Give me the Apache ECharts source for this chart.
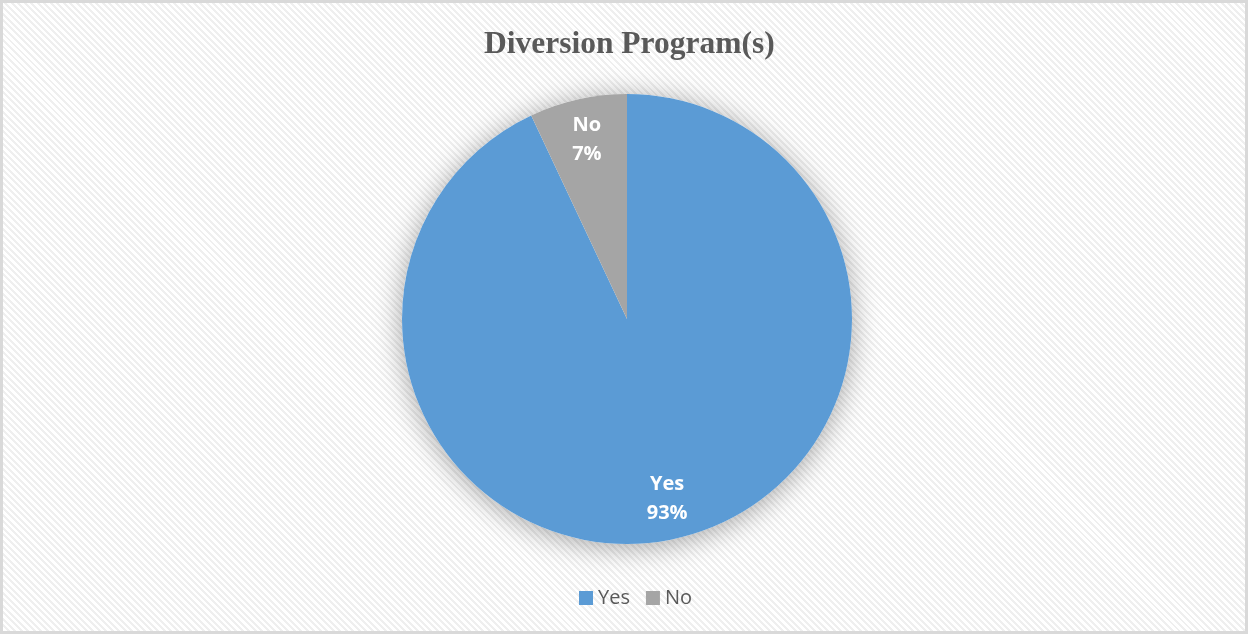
<!DOCTYPE html>
<html>
<head>
<meta charset="utf-8">
<script src="https://cdn.jsdelivr.net/npm/echarts@6/dist/echarts.min.js"></script>
<style>
  html, body { margin: 0; padding: 0; }
  #chart {
    width: 1248px; height: 634px;
    background: repeating-linear-gradient(45deg, #ffffff 0px, #ffffff 2.5px, #efefef 2.5px, #efefef 4.6px);
  }
</style>
</head>
<body>
<div id="chart"></div>
<script>
// Diversion program responses
const categories = ['Yes', 'No'];
const shares = [93, 7];
const colors = ['#5B9BD5', '#A5A5A5'];

const pieData = categories.map((name, i) => ({ name, value: shares[i], itemStyle: { color: colors[i] } }));
const labelData = categories.map((name, i) => ({ name, value: shares[i] }));

const chart = echarts.init(document.getElementById('chart'));
chart.setOption({
  backgroundColor: 'transparent',
  animation: false,
  title: {
    text: 'Diversion Program(s)',
    left: 479,
    top: 24,
    textStyle: { fontFamily: 'Liberation Serif', fontWeight: 'bold', fontSize: 31.5, color: '#595959' }
  },
  legend: {
    data: categories,
    bottom: 21,
    left: 574,
    icon: 'rect',
    itemWidth: 14,
    itemHeight: 14,
    itemGap: 16,
    selectedMode: false,
    textStyle: { fontFamily: 'Open Sans', fontSize: 20, color: '#595959' }
  },
  graphic: [{
    type: 'rect',
    silent: true,
    shape: { x: 1.5, y: 1.5, width: 1245, height: 631 },
    style: { fill: 'none', stroke: '#d9d9d9', lineWidth: 3 }
  }],
  series: [
    {
      // soft glow behind the pie
      type: 'pie',
      silent: true,
      center: [627, 319],
      radius: [0, 225],
      label: { show: false },
      labelLine: { show: false },
      itemStyle: { color: '#ffffff', shadowBlur: 28, shadowColor: 'rgba(0,0,0,0.35)', shadowOffsetY: 3 },
      data: [{ name: '', value: 1 }]
    },
    {
      type: 'pie',
      center: [627, 319],
      radius: [0, 225],
      startAngle: 90,
      clockwise: true,
      label: { show: false },
      labelLine: { show: false },
      emphasis: { disabled: true },
      itemStyle: { borderWidth: 0 },
      data: pieData
    },
    {
      // value labels placed toward the rim
      type: 'pie',
      silent: true,
      center: [627, 319],
      radius: [137, 225],
      startAngle: 90,
      clockwise: true,
      itemStyle: { color: 'rgba(0,0,0,0)' },
      labelLine: { show: false },
      emphasis: { disabled: true },
      label: {
        show: true,
        position: 'inner',
        formatter: '{b}\n{d}%',
        fontFamily: 'Open Sans',
        fontWeight: 'bold',
        fontSize: 20,
        lineHeight: 29,
        color: '#ffffff'
      },
      data: labelData
    }
  ]
});
</script>
</body>
</html>
